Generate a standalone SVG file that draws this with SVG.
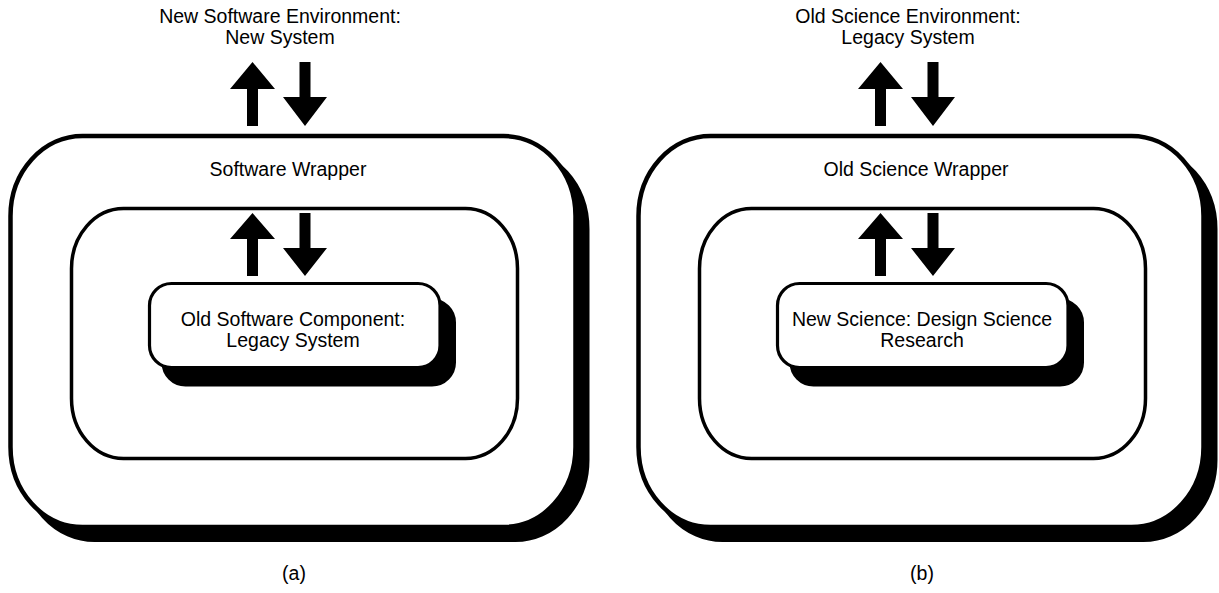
<svg xmlns="http://www.w3.org/2000/svg" width="1219" height="593" viewBox="0 0 1219 593">
  <style>
    .bg { fill: #ffffff; }
    .shadow { fill: #000000; stroke: #000000; stroke-width: 4; }
    .outer { fill: #ffffff; stroke: #000000; stroke-width: 4.5; }
    .middle { fill: #ffffff; stroke: #000000; stroke-width: 3.5; }
    .inner { fill: #ffffff; stroke: #000000; stroke-width: 3.2; }
    .arrow { fill: #000000; stroke: none; }
    text { font-family: "Liberation Sans", Arial, sans-serif; font-size: 19.5px; fill: #000000; text-anchor: middle; }
  </style>
  <defs>
    <polygon id="upTop" points="247,126 247,89 230,89 252.5,62 275,89 258,89 258,126"/>
    <polygon id="downTop" points="299.5,62 310.5,62 310.5,97 327,97 305,126 283,97 299.5,97"/>
    <polygon id="upIn" points="247,276 247,239 230,239 252.5,213 275,239 258,239 258,276"/>
    <polygon id="downIn" points="299.5,213 310.5,213 310.5,248 327,248 305,276 283,248 299.5,248"/>
  </defs>
  <rect class="bg" x="0" y="0" width="1219" height="593"/>

  <!-- Panel (a) -->
  <g id="a-environment">
    <text x="280" y="23">New Software Environment:</text>
    <text x="280" y="44">New System</text>
  </g>
  <g id="a-wrapper">
    <rect class="shadow" x="22.5" y="149" width="565" height="391" rx="72" ry="80"/>
    <rect class="outer" x="10.5" y="136" width="565" height="391" rx="72" ry="80"/>
    <text x="288" y="176">Software Wrapper</text>
  </g>
  <g id="a-interface">
    <rect class="middle" x="71.5" y="208.5" width="446" height="250" rx="52" ry="60"/>
  </g>
  <g id="a-component">
    <rect class="shadow" x="163.5" y="300.5" width="290.5" height="84" rx="22" ry="22"/>
    <rect class="inner" x="149.5" y="283.5" width="290.5" height="84" rx="22" ry="22"/>
    <text x="293" y="326">Old Software Component:</text>
    <text x="293" y="347">Legacy System</text>
  </g>
  <g id="a-label">
    <text x="294" y="580">(a)</text>
  </g>

  <!-- Panel (b) -->
  <g id="b-environment">
    <text x="908" y="23">Old Science Environment:</text>
    <text x="908" y="44">Legacy System</text>
  </g>
  <g id="b-wrapper">
    <rect class="shadow" x="650.5" y="149" width="565" height="391" rx="72" ry="80"/>
    <rect class="outer" x="638.5" y="136" width="565" height="391" rx="72" ry="80"/>
    <text x="916" y="176">Old Science Wrapper</text>
  </g>
  <g id="b-interface">
    <rect class="middle" x="699.5" y="208.5" width="446" height="250" rx="52" ry="60"/>
  </g>
  <g id="b-component">
    <rect class="shadow" x="791.5" y="300.5" width="290.5" height="84" rx="22" ry="22"/>
    <rect class="inner" x="777.5" y="283.5" width="290.5" height="84" rx="22" ry="22"/>
    <text x="922" y="326">New Science: Design Science</text>
    <text x="922" y="347">Research</text>
  </g>
  <g id="b-label">
    <text x="922" y="580">(b)</text>
  </g>

  <!-- Connectors -->
  <g id="connectors">
    <use href="#upTop" class="arrow"/>
    <use href="#downTop" class="arrow"/>
    <use href="#upIn" class="arrow"/>
    <use href="#downIn" class="arrow"/>
    <use href="#upTop" class="arrow" transform="translate(628,0)"/>
    <use href="#downTop" class="arrow" transform="translate(628,0)"/>
    <use href="#upIn" class="arrow" transform="translate(628,0)"/>
    <use href="#downIn" class="arrow" transform="translate(628,0)"/>
  </g>
</svg>
